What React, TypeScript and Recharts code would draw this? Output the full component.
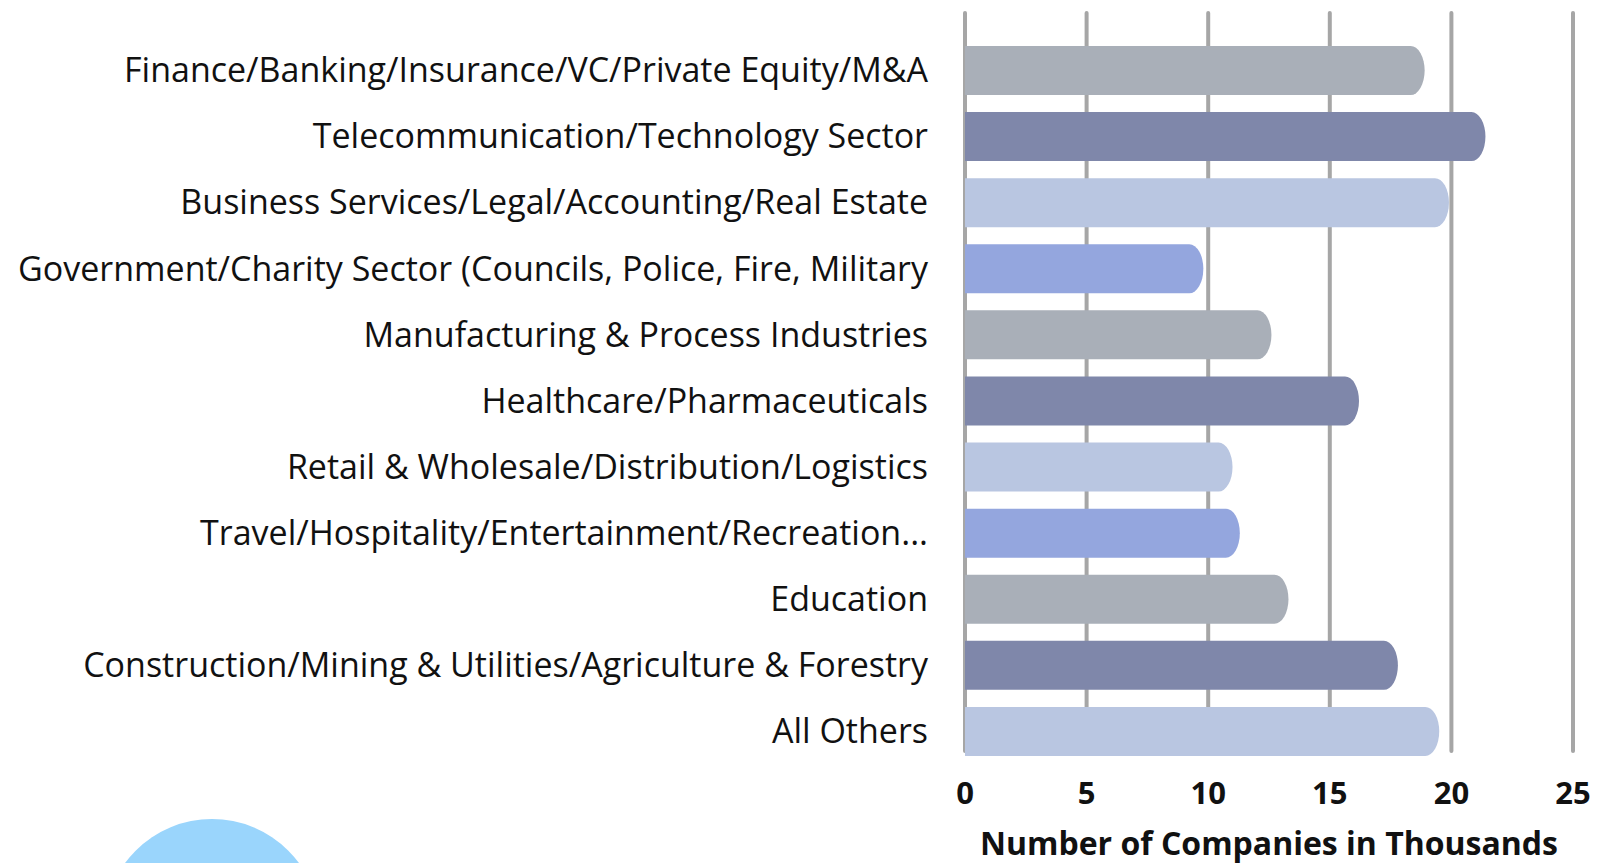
import React from 'react';
import { BarChart, Bar, XAxis, YAxis, CartesianGrid, Cell } from 'recharts';

const categories = [
  'Finance/Banking/Insurance/VC/Private Equity/M&A',
  'Telecommunication/Technology Sector',
  'Business Services/Legal/Accounting/Real Estate',
  'Government/Charity Sector (Councils, Police, Fire, Military',
  'Manufacturing & Process Industries',
  'Healthcare/Pharmaceuticals',
  'Retail & Wholesale/Distribution/Logistics',
  'Travel/Hospitality/Entertainment/Recreation...',
  'Education',
  'Construction/Mining & Utilities/Agriculture & Forestry',
  'All Others',
];

const companies = [18.9, 21.4, 19.9, 9.8, 12.6, 16.2, 11.0, 11.3, 13.3, 17.8, 19.5];

const xTicks = [0, 5, 10, 15, 20, 25];

const axisTitle = 'Number of Companies in Thousands';

const palette = ['#A9AFB8', '#7F87AA', '#B9C6E1', '#94A6DE'];

const data = categories.map((name, i) => ({ name, value: companies[i] }));

const FONT = "'Open Sans', 'Noto Sans', sans-serif";

const RoundEndBar = (props: any) => {
  const { x, y, width, height, fill } = props;
  if (width <= 0) return null;
  const rx = Math.min(14, width);
  const ry = height / 2;
  const d = `M ${x} ${y} L ${x + width - rx} ${y} A ${rx} ${ry} 0 0 1 ${x + width - rx} ${y + height} L ${x} ${y + height} Z`;
  return <path d={d} fill={fill} />;
};

const CategoryTick = (props: any) => {
  const { x, y, payload } = props;
  return (
    <text x={x} y={y} dy="0.36em" textAnchor="end" fontFamily={FONT} fontSize={34} fill="#111">
      {payload.value}
    </text>
  );
};

const ValueTick = (props: any) => {
  const { x, y, payload } = props;
  return (
    <text x={x} y={y} dy={40} textAnchor="middle" fontFamily={FONT} fontWeight={700} fontSize={31} fill="#111">
      {payload.value}
    </text>
  );
};

export default function App() {
  return (
    <div style={{ position: 'absolute', left: 0, top: 0, width: 1617, height: 863, overflow: 'hidden', background: '#fff' }}>
      <div
        style={{
          position: 'absolute',
          left: 104,
          top: 819,
          width: 216,
          height: 216,
          borderRadius: '50%',
          background: '#9AD5FC',
        }}
      />
      <BarChart
        width={1617}
        height={863}
        data={data}
        layout="vertical"
        margin={{ top: 37, right: 44, bottom: 0, left: 0 }}
        barCategoryGap={17}
      >
        <CartesianGrid
          horizontal={false}
          vertical
          stroke="#A6A6A6"
          strokeWidth={4}
          strokeLinecap="round"
          y={13}
          height={738}
        />
        <XAxis
          type="number"
          domain={[0, 25]}
          ticks={xTicks}
          axisLine={false}
          tickLine={false}
          tickSize={0}
          tickMargin={0}
          height={99}
          tick={<ValueTick />}
          interval={0}
          label={{
            value: axisTitle,
            position: 'insideBottom',
            offset: 8,
            fontFamily: FONT,
            fontWeight: 700,
            fontSize: 32,
            fill: '#111',
          }}
        />
        <YAxis
          type="category"
          dataKey="name"
          width={965}
          axisLine={false}
          tickLine={false}
          tickSize={0}
          tickMargin={37}
          interval={0}
          tick={<CategoryTick />}
        />
        <Bar dataKey="value" barSize={49} isAnimationActive={false} shape={<RoundEndBar />}>
          {data.map((d, i) => (
            <Cell key={d.name} fill={palette[i % palette.length]} />
          ))}
        </Bar>
      </BarChart>
    </div>
  );
}
